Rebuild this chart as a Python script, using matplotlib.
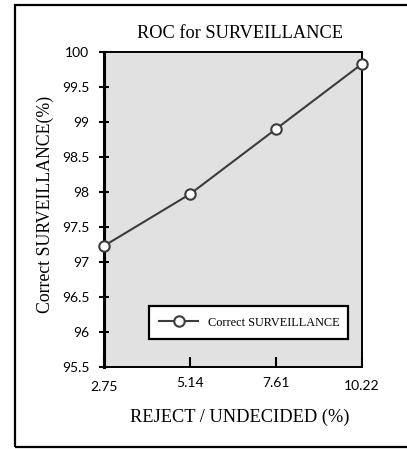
import matplotlib
matplotlib.use("Agg")
import matplotlib.pyplot as plt
import matplotlib.transforms as mtransforms
from matplotlib.patches import Rectangle

x_labels = ["2.75", "5.14", "7.61", "10.22"]
correct = [97.23, 97.97, 98.90, 99.83]
y_ticks = [95.5, 96, 96.5, 97, 97.5, 98, 98.5, 99, 99.5, 100]
y_tick_labels = ["95.5", "96", "96.5", "97", "97.5", "98", "98.5", "99", "99.5", "100"]

W, H = 407, 449
fig = plt.figure(figsize=(W / 100, H / 100), dpi=100)
fig.patch.set_facecolor("white")

# outer frame
fig.patches.append(Rectangle((15 / W, 2.5 / H), (W + 5) / W, (444.5 - 2.5) / H,
                             transform=fig.transFigure, fill=False,
                             edgecolor="black", linewidth=1.6, zorder=0))

ax = fig.add_axes([104 / W, 1 - 367 / H, 258 / W, 315 / H])
ax.set_facecolor("#e1e1e1")

xs = list(range(len(x_labels)))
ax.plot(xs, correct, color="#3c3c3c", linewidth=1.5, marker="o", markersize=7.5,
        markerfacecolor="white", markeredgecolor="#3c3c3c", markeredgewidth=1.5,
        label="Correct SURVEILLANCE", clip_on=False, zorder=5)

ax.set_xlim(0, len(x_labels) - 1)
ax.set_ylim(95.5, 100)
ax.set_xticks(xs)
ax.set_xticklabels(x_labels, fontfamily="Lato", fontsize=10)
ax.set_yticks(y_ticks)
ax.set_yticklabels(y_tick_labels, fontfamily="Lato", fontsize=10)

ax.tick_params(axis="y", direction="inout", length=7, width=1.5, pad=7)
ax.tick_params(axis="x", direction="in", length=7, width=1.5, pad=7)

for side in ["top", "right", "bottom"]:
    ax.spines[side].set_linewidth(1.4)
ax.spines["left"].set_linewidth(2.2)

# slight vertical offsets of end labels
lbls = ax.get_xticklabels()
for i, dy in [(0, -4), (3, -3)]:
    off = mtransforms.ScaledTranslation(0, dy / 100, fig.dpi_scale_trans)
    lbls[i].set_transform(lbls[i].get_transform() + off)

fig.text(240 / W, 1 - 38 / H, "ROC for SURVEILLANCE", ha="center", va="baseline",
         fontfamily="Liberation Serif", fontsize=13.2)
fig.text(240 / W, 1 - 422 / H, "REJECT / UNDECIDED (%)", ha="center", va="baseline",
         fontfamily="Liberation Serif", fontsize=13.2)
fig.text(45 / W, 1 - 204 / H, "Correct SURVEILLANCE(%)", ha="center", va="center",
         rotation=90, fontfamily="Liberation Serif", fontsize=12.8)

leg = ax.legend(loc="lower left", bbox_to_anchor=(0.174, 0.089, 0.772, 0.098),
                mode="expand", borderaxespad=0, fancybox=False, framealpha=1,
                prop={"family": "Liberation Serif", "size": 8.8},
                handlelength=3.2, handletextpad=0.8, borderpad=0.85)
leg.get_frame().set_edgecolor("black")
leg.get_frame().set_linewidth(1.6)
leg.get_frame().set_facecolor("white")

fig.savefig("out.png", dpi=100)
